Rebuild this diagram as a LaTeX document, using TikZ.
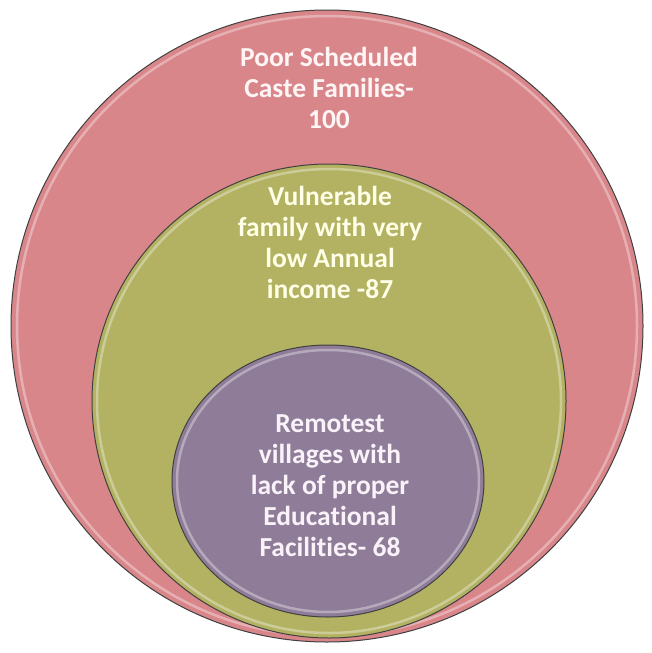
\documentclass[tikz,border=0pt]{standalone}
\usepackage{fontspec}
\setmainfont{Carlito}[Ligatures=NoCommon]
\usepackage{tikz}
\usetikzlibrary{positioning, shapes.geometric}
\definecolor{castepink}{RGB}{217,134,139}
\definecolor{incomeolive}{RGB}{178,178,98}
\definecolor{villagepurple}{RGB}{143,124,153}
\tikzset{
ring/.style={
  circle,
  draw=black!75,
  line width=1pt,
  inner sep=0pt,
  outer sep=0pt
  },
gloss/.style={white, opacity=0.35, line width=2.5pt},
tag/.style={
  font=\bfseries\fontsize{27.5}{31}\selectfont,
  align=center,
  inner sep=0pt
  }
}

\begin{document}
\begin{tikzpicture}[x=1pt, y=-1pt]
\useasboundingbox (0,0) rectangle (652,653);
% the three sets, largest first
\node[ring, fill=castepink, minimum size=632pt] (caste) at (327,326) {};
\draw[gloss] (caste.center) circle (310);
\node[ring, fill=incomeolive, minimum size=474pt] (income) at (329,401) {};
\draw[gloss] (income.center) circle (232);
\node[ring, ellipse, fill=villagepurple, minimum width=312pt, minimum height=272pt] (village) at (328,481) {};
\draw[gloss] (village.center) ellipse (151 and 131);
% labels
\node[tag, text=white!96!red] (castetext) at (329,88) {Poor Scheduled\\Caste Families-\\100};
\node[tag, text=white!90!yellow] (incometext) at (330,242) {Vulnerable\\family with very\\low Annual\\income -87};
\node[tag, text=white!95!violet] (villagetext) at (330,486) {Remotest\\villages with\\lack of proper\\Educational\\Facilities- 68};
\end{tikzpicture}
\end{document}
